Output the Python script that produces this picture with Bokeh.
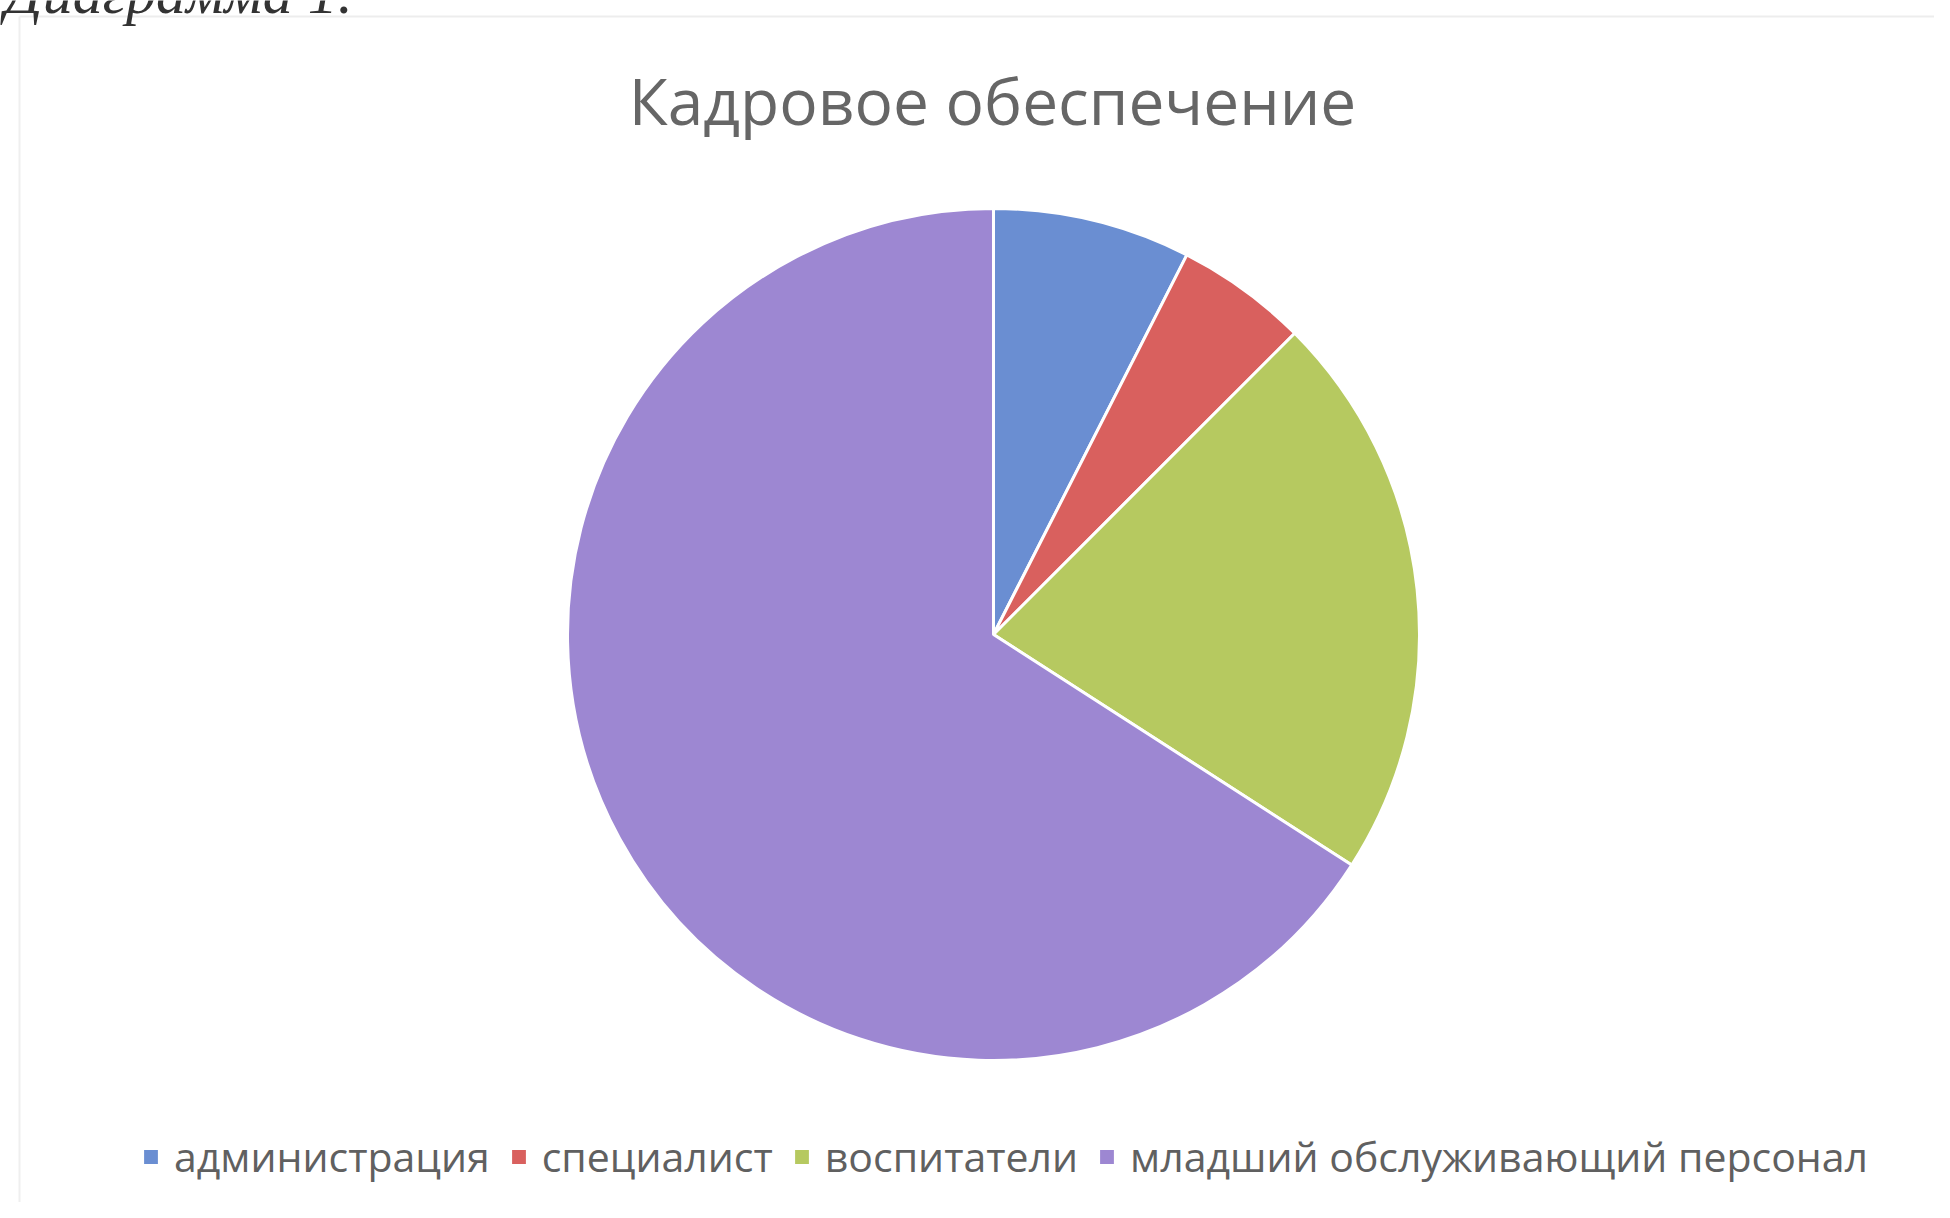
from bokeh.plotting import figure
from bokeh.models import ColumnDataSource, Range1d, Legend, LegendItem
from bokeh.core.properties import value
from bokeh.embed import file_html
from bokeh.resources import INLINE
import math

# ---- data ----
title_text = "Кадровое обеспечение"
caption_text = "Диаграмма 1."
categories = ["администрация", "специалист", "воспитатели", "младший обслуживающий персонал"]
values = [7.5, 5.0, 21.6, 65.9]
colors = ["#6A8ED2", "#D9605E", "#B6C960", "#9D87D2"]

# ---- layout ----
W, H = 1934, 1202


def Y(py):
    return H - py


total = sum(values)
starts, ends = [], []
acc = 0.0
for v in values:
    starts.append(math.pi / 2 - 2 * math.pi * acc / total)
    acc += v
    ends.append(math.pi / 2 - 2 * math.pi * acc / total)

src = ColumnDataSource(dict(cat=categories, val=values, color=colors,
                            start=starts, end=ends))

p = figure(width=W, height=H, x_range=Range1d(0, W), y_range=Range1d(0, H),
           min_border=0, toolbar_location=None, output_backend="svg")
p.axis.visible = False
p.grid.visible = False
p.outline_line_color = None
p.background_fill_color = "#FFFFFF"
p.border_fill_color = "#FFFFFF"

# faint scan border lines of the chart area
p.line([19, W], [Y(16), Y(16)], line_color="#EDEDED", line_width=2)
p.line([19, 19], [Y(16), 0], line_color="#EFEFEF", line_width=2)

cx, cy, r = 993, Y(634), 426
wr = p.wedge(x=cx, y=cy, radius=r, radius_units="screen",
             start_angle="start", end_angle="end", direction="clock",
             fill_color="color", line_color="white", line_width=3, source=src)

# title
p.text(x=[992], y=[Y(100)], text=[title_text], text_align="center",
       text_baseline="alphabetic", text_font=value("Open Sans"),
       text_font_size="64px", text_color="#666666")

# cut-off caption from the page above
p.text(x=[4], y=[Y(-8)], text=[caption_text], text_align="left",
       text_baseline="alphabetic", text_font=value("Liberation Serif"),
       text_font_style="italic", text_font_size="60px", text_color="#333333")

items = [LegendItem(label=c, renderers=[wr], index=i) for i, c in enumerate(categories)]
legend = Legend(items=items, orientation="horizontal", location=(140, 18),
                label_text_font="Open Sans", label_text_font_size="41px",
                label_text_color="#606060", glyph_width=21, glyph_height=21,
                label_standoff=13, spacing=18, padding=0, margin=0,
                border_line_color=None, background_fill_alpha=0)
p.add_layout(legend, "center")

open("out.html", "w").write(file_html(p, INLINE))
